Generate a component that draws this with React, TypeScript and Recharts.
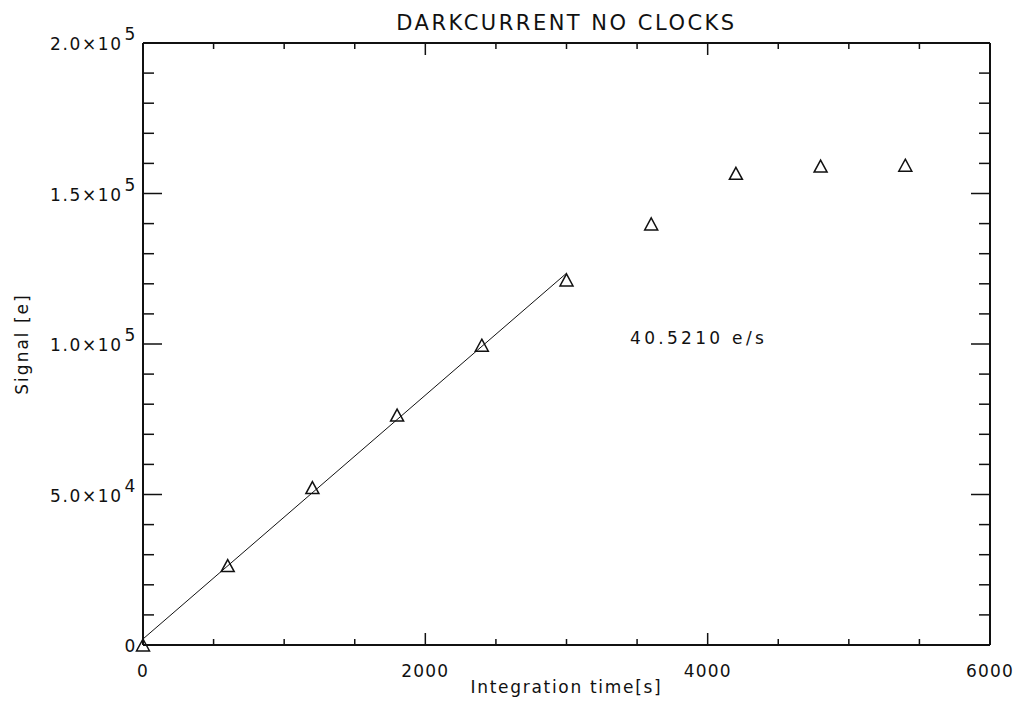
import React from 'react';
import { ScatterChart, Scatter, XAxis, YAxis } from 'recharts';

const timeSeconds = [0, 600, 1200, 1800, 2400, 3000, 3600, 4200, 4800, 5400];
const signalElectrons = [0, 26400, 52300, 76400, 99600, 121300, 139900, 156700, 159100, 159400];

const fitTime = [0, 3000];
const fitSignal = [2000, 123500];

const xTicks = [0, 500, 1000, 1500, 2000, 2500, 3000, 3500, 4000, 4500, 5000, 5500, 6000];
const xMajorTicks = [0, 2000, 4000, 6000];
const yTicks = [0, 10000, 20000, 30000, 40000, 50000, 60000, 70000, 80000, 90000, 100000,
  110000, 120000, 130000, 140000, 150000, 160000, 170000, 180000, 190000, 200000];
const yMajorTicks = [0, 50000, 100000, 150000, 200000];
const yTickBase = ['0', '5.0×10', '1.0×10', '1.5×10', '2.0×10'];
const yTickExp = ['', '4', '5', '5', '5'];

const titleText = 'DARKCURRENT NO CLOCKS';
const xLabelText = 'Integration time[s]';
const yLabelText = 'Signal [e]';
const annotationX = [3450];
const annotationY = [100000];
const annotationText = ['40.5210 e/s'];

const points = timeSeconds.map((x, i) => ({ x, y: signalElectrons[i] }));
const fitPoints = fitTime.map((x, i) => ({ x, y: fitSignal[i] }));
const annotations = annotationX.map((x, i) => ({ x, y: annotationY[i], text: annotationText[i] }));

const FONT = '"DejaVu Sans", sans-serif';
const INK = '#111';

const BottomTick = (p: any) => {
  const { x, y, payload } = p;
  const major = xMajorTicks.includes(payload.value);
  return (
    <g>
      <line x1={x} x2={x} y1={y} y2={y - (major ? 12 : 6)} stroke={INK} strokeWidth={1.5} />
      {major && (
        <text x={x} y={y + 32} textAnchor="middle" fontFamily={FONT} fontSize={17} letterSpacing={1.2} fill={INK}>
          {payload.value}
        </text>
      )}
    </g>
  );
};

const TopTick = (p: any) => {
  const { x, y, payload } = p;
  const major = xMajorTicks.includes(payload.value);
  return <line x1={x} x2={x} y1={y} y2={y + (major ? 12 : 6)} stroke={INK} strokeWidth={1.5} />;
};

const LeftTick = (p: any) => {
  const { x, y, payload } = p;
  const idx = yMajorTicks.indexOf(payload.value);
  const major = idx >= 0;
  return (
    <g>
      <line x1={x} x2={x + (major ? 19 : 11)} y1={y} y2={y} stroke={INK} strokeWidth={1.5} />
      {major && (
        <text x={x - 6} y={y + 7} textAnchor="end" fontFamily={FONT} fontSize={17} letterSpacing={1.6} fill={INK}>
          {yTickBase[idx]}
          {yTickExp[idx] && (
            <tspan dx={2} dy={-10}>{yTickExp[idx]}</tspan>
          )}
        </text>
      )}
    </g>
  );
};

const RightTick = (p: any) => {
  const { x, y, payload } = p;
  const major = yMajorTicks.includes(payload.value);
  return <line x1={x} x2={x - (major ? 19 : 11)} y1={y} y2={y} stroke={INK} strokeWidth={1.5} />;
};

const TriangleMarker = (p: any) => {
  const { cx, cy } = p;
  if (cx == null || cy == null) return <g />;
  return (
    <path
      d={`M${cx},${cy - 6} L${cx + 6.5},${cy + 6} L${cx - 6.5},${cy + 6} Z`}
      fill="none"
      stroke={INK}
      strokeWidth={1.5}
    />
  );
};

const NoMarker = () => <g />;

const AnnotationText = (p: any) => {
  const { cx, cy, payload } = p;
  return (
    <text x={cx} y={cy} fontFamily={FONT} fontSize={17} letterSpacing={3.3} fill={INK}>
      {payload.text}
    </text>
  );
};

const TitleLabel = (p: any) => {
  const vb = p.viewBox || {};
  return (
    <text x={vb.x + vb.width / 2} y={43 - 13} textAnchor="middle" fontFamily={FONT} fontSize={21} letterSpacing={2.5} fill={INK}>
      {titleText}
    </text>
  );
};

const XLabel = (p: any) => {
  const vb = p.viewBox || {};
  return (
    <text x={vb.x + vb.width / 2} y={645 + 48} textAnchor="middle" fontFamily={FONT} fontSize={17} letterSpacing={1.7} fill={INK}>
      {xLabelText}
    </text>
  );
};

const YLabel = (p: any) => {
  const vb = p.viewBox || {};
  const cx = 28;
  const cy = vb.y + vb.height / 2;
  return (
    <text x={cx} y={cy} textAnchor="middle" transform={`rotate(-90, ${cx}, ${cy})`} fontFamily={FONT} fontSize={17} letterSpacing={2} fill={INK}>
      {yLabelText}
    </text>
  );
};

export default function App() {
  return (
    <div style={{ position: 'absolute', left: 0, top: 0, width: 1018, height: 709, background: '#fff' }}>
      <ScatterChart width={1018} height={709} margin={{ top: 42, right: 27, bottom: 63, left: 142 }}>
        <XAxis
          xAxisId="bottom"
          type="number"
          dataKey="x"
          domain={[0, 6000]}
          ticks={xTicks}
          interval={0}
          orientation="bottom"
          height={1}
          tickSize={0}
          tickMargin={0}
          tickLine={false}
          tick={<BottomTick />}
          axisLine={{ stroke: INK, strokeWidth: 2 }}
          label={XLabel}
        />
        <XAxis
          xAxisId="top"
          type="number"
          dataKey="x"
          domain={[0, 6000]}
          ticks={xTicks}
          interval={0}
          orientation="top"
          height={1}
          tickSize={0}
          tickMargin={0}
          tickLine={false}
          tick={<TopTick />}
          axisLine={{ stroke: INK, strokeWidth: 2 }}
          label={TitleLabel}
        />
        <YAxis
          yAxisId="left"
          type="number"
          dataKey="y"
          domain={[0, 200000]}
          ticks={yTicks}
          interval={0}
          orientation="left"
          width={1}
          tickSize={0}
          tickMargin={0}
          tickLine={false}
          tick={<LeftTick />}
          axisLine={{ stroke: INK, strokeWidth: 2 }}
          label={YLabel}
        />
        <YAxis
          yAxisId="right"
          type="number"
          dataKey="y"
          domain={[0, 200000]}
          ticks={yTicks}
          interval={0}
          orientation="right"
          width={1}
          tickSize={0}
          tickMargin={0}
          tickLine={false}
          tick={<RightTick />}
          axisLine={{ stroke: INK, strokeWidth: 2 }}
        />
        <Scatter
          xAxisId="bottom"
          yAxisId="left"
          data={fitPoints}
          line={{ stroke: INK, strokeWidth: 1 }}
          shape={NoMarker}
          isAnimationActive={false}
        />
        <Scatter
          xAxisId="bottom"
          yAxisId="left"
          data={points}
          shape={TriangleMarker}
          isAnimationActive={false}
        />
        <Scatter
          xAxisId="top"
          yAxisId="right"
          data={points}
          shape={NoMarker}
          isAnimationActive={false}
        />
        <Scatter
          xAxisId="bottom"
          yAxisId="left"
          data={annotations}
          shape={AnnotationText}
          isAnimationActive={false}
        />
      </ScatterChart>
    </div>
  );
}
